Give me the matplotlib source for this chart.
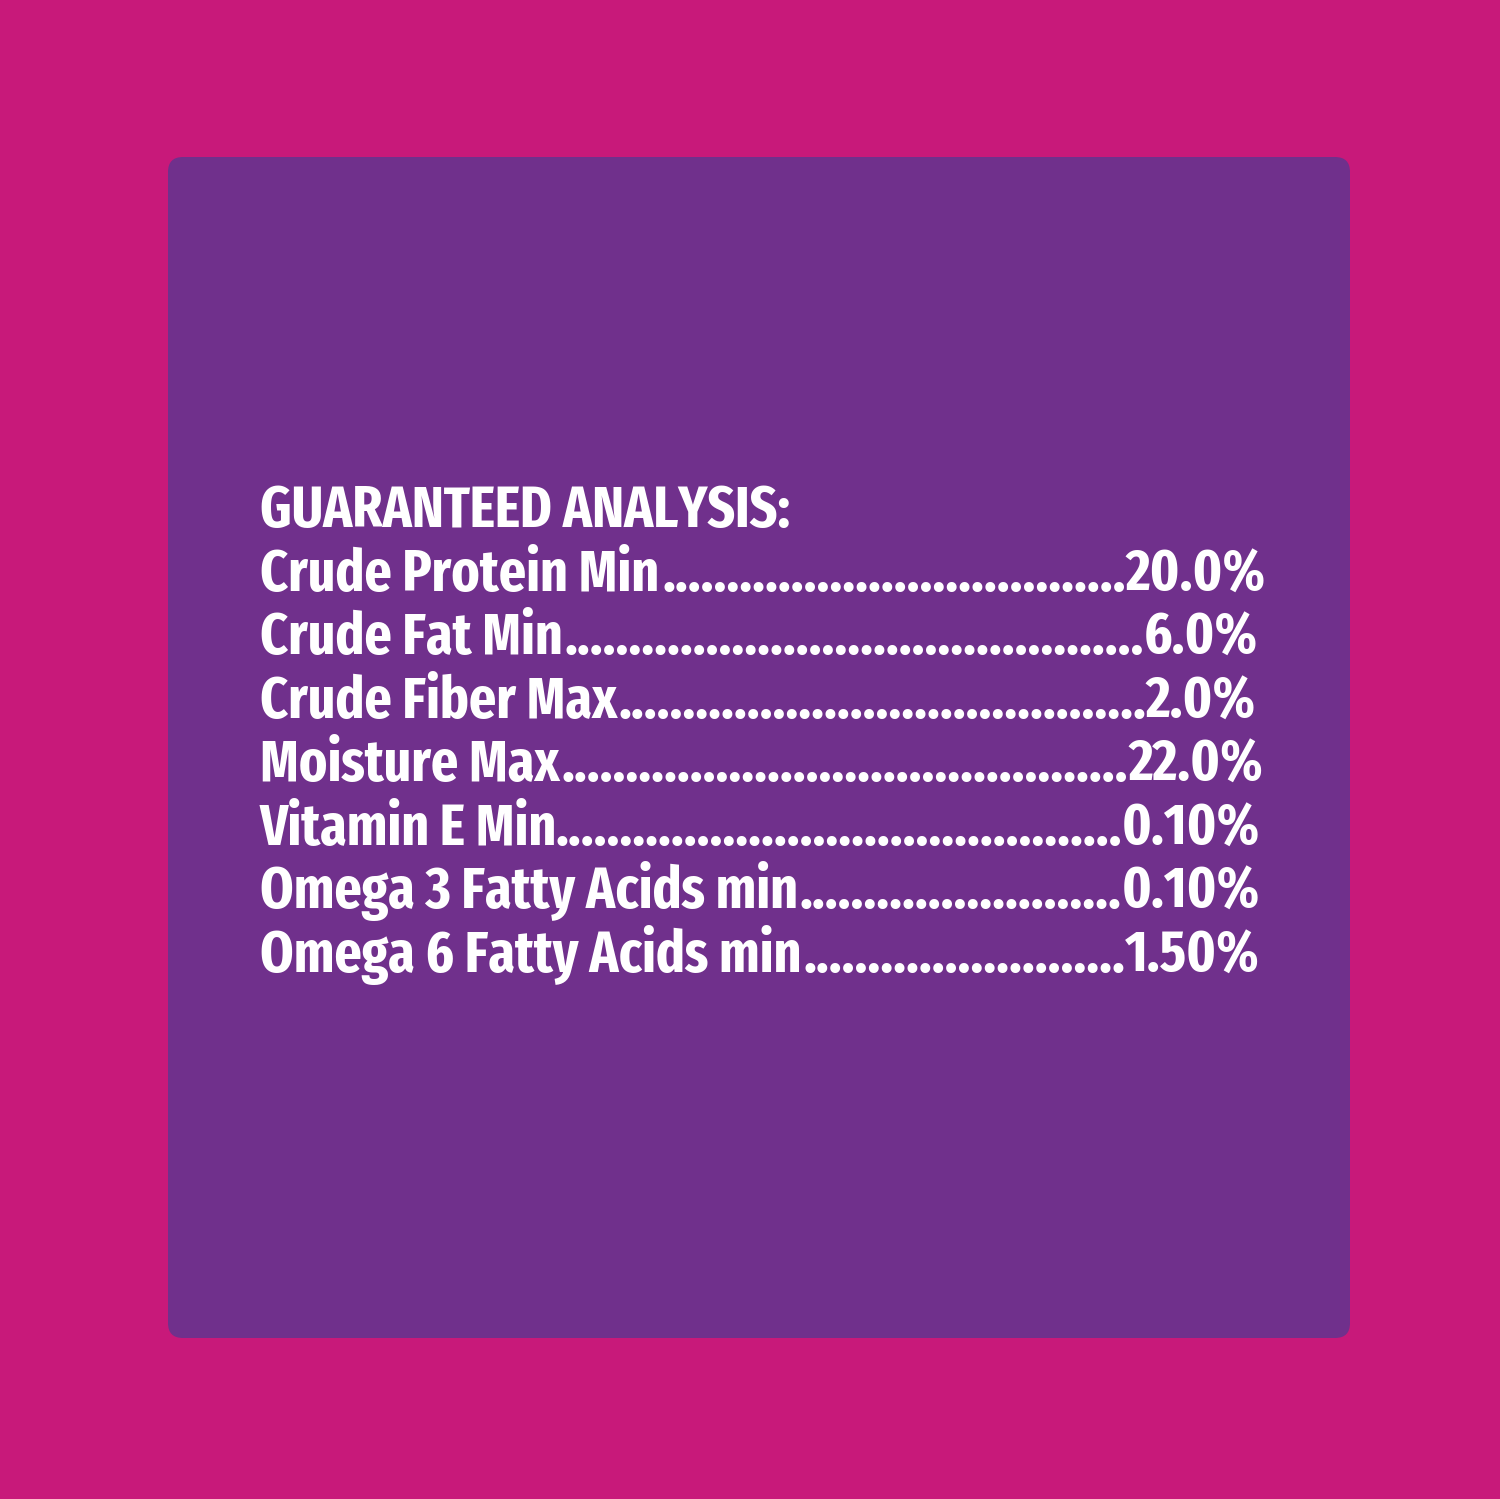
import matplotlib
matplotlib.use('Agg')
import matplotlib.pyplot as plt
from matplotlib.patches import FancyBboxPatch

# guaranteed analysis values
title = 'GUARANTEED ANALYSIS:'
nutrients = ['Crude Protein Min', 'Crude Fat Min', 'Crude Fiber Max', 'Moisture Max',
             'Vitamin E Min', 'Omega 3 Fatty Acids min', 'Omega 6 Fatty Acids min']
amounts = ['20.0%', '6.0%', '2.0%', '22.0%', '0.10%', '0.10%', '1.50%']
right_edges = [1266, 1258, 1256, 1263, 1260, 1260, 1260]

bg = '#C8197A'
box = '#70308C'
fams = ['Fira Sans Extra Condensed', 'Barlow Condensed', 'Liberation Sans Narrow', 'DejaVu Sans']
fnt = dict(family=fams, weight='bold', fontsize=40, color='white')

fig = plt.figure(figsize=(15, 14.99), dpi=100, facecolor=bg)
ax = fig.add_axes([0, 0, 1, 1])
ax.set_xlim(0, 1500)
ax.set_ylim(1499, 0)
ax.axis('off')

ax.add_patch(FancyBboxPatch((183, 172), 1152, 1151, boxstyle='round,pad=15',
                            facecolor=box, edgecolor='none'))

x0 = 260
y0 = 527
step = 63.5

fig.canvas.draw()
r = fig.canvas.get_renderer()
inv = ax.transData.inverted()

def width(t):
    bb = t.get_window_extent(r)
    a = inv.transform((bb.x0, bb.y0))
    b = inv.transform((bb.x1, bb.y1))
    return b[0] - a[0]

# size the font so the heading spans as wide as in the original
probe = ax.text(0, -100, title, **fnt)
fnt['fontsize'] = 40 * 530 / width(probe)
probe.remove()

ax.text(x0, y0, title, ha='left', va='baseline', **fnt)

probe = ax.text(0, -100, '.' * 20, **fnt)
dot_w = width(probe) / 20
probe.remove()

for i, (name, val) in enumerate(zip(nutrients, amounts)):
    y = y0 + step * (i + 1)
    lt = ax.text(x0, y, name, ha='left', va='baseline', **fnt)
    vt = ax.text(right_edges[i], y, val, ha='right', va='baseline', **fnt)
    val_start = right_edges[i] - width(vt)
    gap = val_start - (x0 + width(lt))
    n = max(int(round(gap / dot_w)), 0)
    # leader dots run up to the value
    ax.text(val_start, y, '.' * n, ha='right', va='baseline', **fnt)

fig.savefig('out.png', dpi=100, facecolor=bg)
